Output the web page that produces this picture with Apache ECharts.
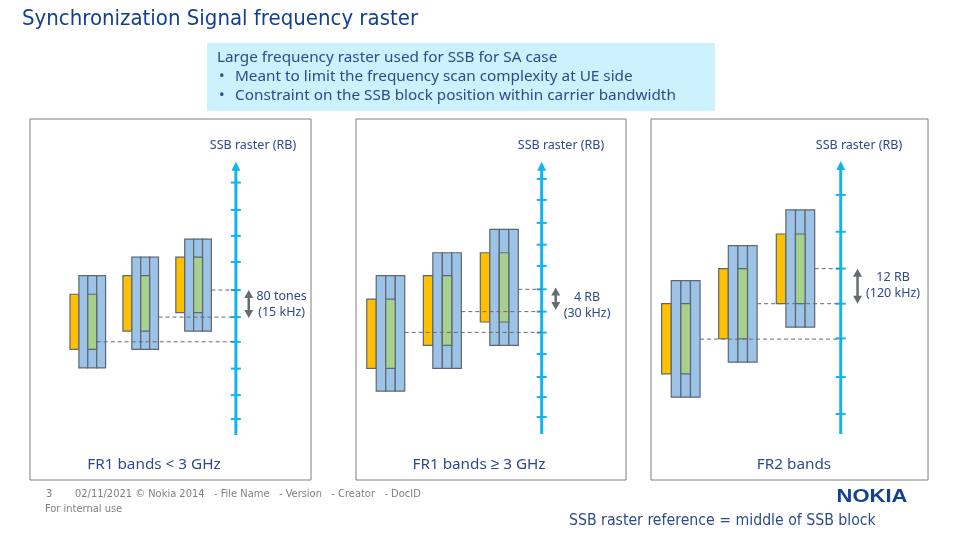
<!DOCTYPE html>
<html>
<head>
<meta charset="utf-8">
<script src="https://cdn.jsdelivr.net/npm/echarts@6/dist/echarts.min.js"></script>
</head>
<body style="margin:0;background:#fff">
<div id="main" style="width:960px;height:540px"></div>
<script>
// panel titles and raster step labels
var panelNames = ['FR1 bands < 3 GHz', 'FR1 bands \u2265 3 GHz', 'FR2 bands'];
var stepLabels = ['80 tones\n(15 kHz)', '4 RB\n(30 kHz)', '12 RB\n(120 kHz)'];

// raster ticks, in raster steps (0 = lowest tick)
var rasterTicks = [
    [0, 0.91, 1.92, 2.94, 3.88, 4.91, 5.98, 6.97, 7.96, 9],
    [0, 0.92, 1.85, 2.91, 3.9, 4.87, 5.9, 6.98, 7.96, 8.97, 10.03, 11],
    [0, 1.01, 2.07, 3.02, 3.98, 4.99, 6]
];
// three carriers per panel (column where each block starts)
var blockStart = [[0, 5.95, 11.9], [0, 5.96, 11.96], [0, 5.94, 11.94]];
var carrierLow = [[1.95, 2.65, 3.35], [1.2, 2.25, 3.31], [0.46, 1.42, 2.38]];
var carrierHigh = [[5.46, 6.16, 6.85], [6.53, 7.59, 8.67], [3.65, 4.61, 5.59]];
var ssbLow = [[2.65, 3.35, 4.05], [2.25, 3.31, 4.39], [1.1, 2.06, 3.02]];
var ssbHigh = [[4.75, 5.46, 6.16], [5.45, 6.53, 7.59], [3.02, 3.98, 4.93]];
var rasterRef = [[2.94, 3.88, 4.91], [3.91, 4.87, 5.9], [2.05, 3.02, 3.98]];
// column where each dashed reference line starts
var refStart = [[3, 9.95, 15.9], [4, 9.96, 15.96], [4, 9.94, 15.94]];
var stepSpan = [[3.85, 4.91], [4.94, 5.98], [3.02, 3.98]];

// panel layout (pixels) and axis ranges (columns / raster steps)
var layout = [
    { left: 30, width: 281, x: [-4.5, 27.1], y: [-2.32, 11.42], axisX: 18.65, axisY: [-0.61, 9.79], arrowX: 20.1, labelX: 23.8, labelY: 4.36, head: 253, foot: 154 },
    { left: 356, width: 270, x: [-1.13, 27.3], y: [-2.91, 13.77], axisX: 18.42, axisY: [-0.79, 11.8], arrowX: 19.9, labelX: 23.2, labelY: 5.15, head: 561, foot: 479 },
    { left: 651, width: 277, x: [-1.11, 27.74], y: [-1.81, 8.08], axisX: 18.65, axisY: [-0.55, 6.93], arrowX: 20.4, labelX: 24.1, labelY: 3.52, head: 859, foot: 794 }
];

var BLUE = '#9dc3e6', GREEN = '#a9d18e', ORANGE = '#ffc000', EDGE = '#5c6773';
var CYAN = '#13b4ee', TEXT = '#2d4a8c', FONT = '"Noto Sans", sans-serif';
var NARROW = '"Liberation Sans Narrow", "DejaVu Sans Condensed", sans-serif';

var chart = echarts.init(document.getElementById('main'));

function renderBlock(params, api) {
    var x = api.value(0), cl = api.value(1), ch = api.value(2), sl = api.value(3), sh = api.value(4);
    function box(x0, x1, y0, y1, fill) {
        var a = api.coord([x0, y1]), b = api.coord([x1, y0]);
        return {
            type: 'rect',
            shape: { x: a[0], y: a[1], width: b[0] - a[0], height: b[1] - a[1] },
            style: { fill: fill, stroke: EDGE, lineWidth: 1.2 }
        };
    }
    return {
        type: 'group',
        children: [
            box(x, x + 1, sl, sh, ORANGE),
            box(x + 1, x + 2, cl, ch, BLUE),
            box(x + 2, x + 3, cl, ch, BLUE),
            box(x + 3, x + 4, cl, ch, BLUE),
            box(x + 2, x + 3, sl, sh, GREEN)
        ]
    };
}

function renderTick(params, api) {
    var c = api.coord([api.value(0), api.value(1)]);
    return {
        type: 'line',
        shape: { x1: c[0] - 5, y1: c[1], x2: c[0] + 5, y2: c[1] },
        style: { stroke: CYAN, lineWidth: 2 }
    };
}

function renderRaster(params, api) {
    var lo = api.coord([api.value(0), api.value(1)]);
    var hi = api.coord([api.value(0), api.value(2)]);
    return {
        type: 'group',
        children: [
            { type: 'line', shape: { x1: lo[0], y1: lo[1], x2: hi[0], y2: hi[1] + 6 }, style: { stroke: CYAN, lineWidth: 3 } },
            { type: 'polygon', shape: { points: [[hi[0], hi[1]], [hi[0] - 4.5, hi[1] + 9], [hi[0] + 4.5, hi[1] + 9]] }, style: { fill: CYAN } }
        ]
    };
}

function renderRef(params, api) {
    var a = api.coord([api.value(0), api.value(1)]);
    var b = api.coord([api.value(2), api.value(1)]);
    return {
        type: 'line',
        shape: { x1: a[0], y1: a[1], x2: b[0], y2: b[1] },
        style: { stroke: '#6a6a6a', lineWidth: 1, lineDash: [4, 3] }
    };
}

function stepRenderer(p) {
    return function (params, api) {
        var lo = api.coord([api.value(0), api.value(1)]);
        var hi = api.coord([api.value(0), api.value(2)]);
        var t = api.coord([layout[p].labelX, layout[p].labelY]);
        var g = '#676c72';
        return {
            type: 'group',
            children: [
                { type: 'line', shape: { x1: lo[0], y1: lo[1] - 6, x2: hi[0], y2: hi[1] + 6 }, style: { stroke: g, lineWidth: 2.5 } },
                { type: 'polygon', shape: { points: [[hi[0], hi[1]], [hi[0] - 4.5, hi[1] + 8], [hi[0] + 4.5, hi[1] + 8]] }, style: { fill: g } },
                { type: 'polygon', shape: { points: [[lo[0], lo[1]], [lo[0] - 4.5, lo[1] - 8], [lo[0] + 4.5, lo[1] - 8]] }, style: { fill: g } },
                {
                    type: 'text', x: t[0], y: t[1],
                    style: { text: stepLabels[p], fill: TEXT, fontSize: 12.5, fontFamily: FONT, align: 'center', verticalAlign: 'middle', lineHeight: 16 }
                }
            ]
        };
    };
}

var grids = [], xAxes = [], yAxes = [], series = [], graphics = [];
layout.forEach(function (L, p) {
    grids.push({ left: L.left, top: 119, width: L.width, height: 361, show: true, borderColor: '#7f7f7f', borderWidth: 1 });
    xAxes.push({ gridIndex: p, type: 'value', min: L.x[0], max: L.x[1], show: false });
    yAxes.push({ gridIndex: p, type: 'value', min: L.y[0], max: L.y[1], show: false });
    var base = { type: 'custom', coordinateSystem: 'cartesian2d', xAxisIndex: p, yAxisIndex: p, silent: true, animation: false };
    series.push(Object.assign({}, base, {
        data: [[L.axisX, L.axisY[0], L.axisY[1]]],
        renderItem: renderRaster
    }));
    series.push(Object.assign({}, base, {
        data: rasterTicks[p].map(function (v) { return [L.axisX, v]; }),
        renderItem: renderTick
    }));
    series.push(Object.assign({}, base, {
        data: blockStart[p].map(function (x, i) { return [x, carrierLow[p][i], carrierHigh[p][i], ssbLow[p][i], ssbHigh[p][i]]; }),
        renderItem: renderBlock
    }));
    series.push(Object.assign({}, base, {
        data: refStart[p].map(function (x, i) { return [x, rasterRef[p][i], L.axisX]; }),
        renderItem: renderRef
    }));
    series.push(Object.assign({}, base, {
        data: [[L.arrowX, stepSpan[p][0], stepSpan[p][1]]],
        renderItem: stepRenderer(p)
    }));
    graphics.push({ type: 'text', x: L.head, y: 145, style: { text: 'SSB raster (RB)', fill: TEXT, fontSize: 12.5, fontFamily: FONT, align: 'center', verticalAlign: 'middle' } });
    graphics.push({ type: 'text', x: L.foot, y: 465, style: { text: panelNames[p], fill: TEXT, fontSize: 15.3, fontFamily: FONT, align: 'center', verticalAlign: 'middle' } });
});

// slide title, note box and footer
graphics.push(
    { type: 'text', x: 22, y: 19, style: { text: 'Synchronization Signal frequency raster', fill: '#124191', fontSize: 22, fontFamily: NARROW, verticalAlign: 'middle' } },
    { type: 'rect', shape: { x: 207, y: 43, width: 508, height: 68 }, style: { fill: '#ccf2fd' } },
    { type: 'text', x: 217, y: 58, style: { text: 'Large frequency raster used for SSB for SA case', fill: TEXT, fontSize: 15.3, fontFamily: FONT, verticalAlign: 'middle' } },
    { type: 'text', x: 219, y: 77, style: { text: '\u2022', fill: TEXT, fontSize: 15, fontFamily: FONT, verticalAlign: 'middle' } },
    { type: 'text', x: 235, y: 77, style: { text: 'Meant to limit the frequency scan complexity at UE side', fill: TEXT, fontSize: 15.3, fontFamily: FONT, verticalAlign: 'middle' } },
    { type: 'text', x: 219, y: 96, style: { text: '\u2022', fill: TEXT, fontSize: 15, fontFamily: FONT, verticalAlign: 'middle' } },
    { type: 'text', x: 235, y: 96, style: { text: 'Constraint on the SSB block position within carrier bandwidth', fill: TEXT, fontSize: 15.3, fontFamily: FONT, verticalAlign: 'middle' } },
    { type: 'text', x: 46, y: 494, style: { text: '3', fill: '#7f7f7f', fontSize: 11, fontFamily: NARROW, verticalAlign: 'middle' } },
    { type: 'text', x: 75, y: 494, style: { text: '02/11/2021 \u00a9 Nokia 2014   - File Name   - Version   - Creator   - DocID', fill: '#7f7f7f', fontSize: 11, fontFamily: NARROW, verticalAlign: 'middle' } },
    { type: 'text', x: 45, y: 509, style: { text: 'For internal use', fill: '#7f7f7f', fontSize: 11, fontFamily: NARROW, verticalAlign: 'middle' } },
    { type: 'text', x: 872, y: 497, scaleX: 1.22, style: { text: 'NOKIA', fill: '#124191', fontSize: 18, fontWeight: 'bold', fontFamily: '"Liberation Sans", sans-serif', align: 'center', verticalAlign: 'middle' } },
    { type: 'text', x: 569, y: 521, style: { text: 'SSB raster reference = middle of SSB block', fill: TEXT, fontSize: 15.7, fontFamily: NARROW, verticalAlign: 'middle' } }
);

chart.setOption({
    animation: false,
    grid: grids,
    xAxis: xAxes,
    yAxis: yAxes,
    series: series,
    graphic: graphics
});
</script>
</body>
</html>
